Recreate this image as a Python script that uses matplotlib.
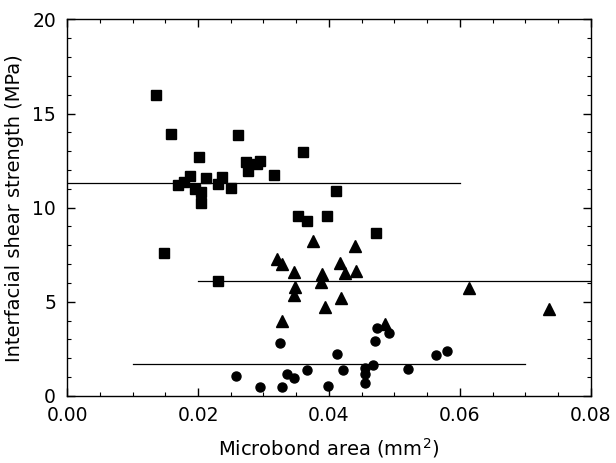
import matplotlib
matplotlib.use("Agg")
import matplotlib.pyplot as plt
from matplotlib.ticker import MultipleLocator

plt.rcParams['font.family'] = ['DejaVu Sans']

# squares (upper group)
sq_x = [0.0135, 0.0159, 0.0148, 0.0169, 0.0179, 0.0187, 0.0195, 0.0201, 0.0205,
        0.0204, 0.0212, 0.0230, 0.0237, 0.0250, 0.0261, 0.0231, 0.0274, 0.0276,
        0.0290, 0.0295, 0.0316, 0.0361, 0.0352, 0.0367, 0.0397, 0.0411, 0.0472]
sq_y = [16.0, 13.9, 7.6, 11.2, 11.35, 11.7, 11.0, 12.7, 10.85,
        10.25, 11.55, 11.25, 11.65, 11.05, 13.85, 6.1, 12.45, 11.95,
        12.3, 12.5, 11.75, 12.95, 9.55, 9.3, 9.55, 10.9, 8.65]

# triangles (middle group)
tri_x = [0.0375, 0.0320, 0.0328, 0.0346, 0.0348, 0.0346, 0.0328, 0.0389, 0.0388,
         0.0394, 0.0417, 0.0424, 0.0440, 0.0441, 0.0418, 0.0485, 0.0614, 0.0736]
tri_y = [8.25, 7.25, 7.0, 6.6, 5.8, 5.35, 4.0, 6.45, 6.05,
         4.7, 7.05, 6.55, 7.95, 6.65, 5.2, 3.8, 5.75, 4.6]

# circles (lower group)
cir_x = [0.0325, 0.0258, 0.0294, 0.0329, 0.0336, 0.0346, 0.0367, 0.0399, 0.0413,
         0.0422, 0.0455, 0.0455, 0.0455, 0.0468, 0.0471, 0.0474, 0.0491, 0.0521,
         0.0563, 0.0581]
cir_y = [2.8, 1.05, 0.45, 0.45, 1.15, 0.95, 1.35, 0.55, 2.25,
         1.4, 0.7, 1.15, 1.5, 1.65, 2.9, 3.6, 3.35, 1.45,
         2.15, 2.4]

# mean lines: (y, x start, x end)
means = [(11.3, 0.0, 0.060), (6.1, 0.020, 0.080), (1.7, 0.010, 0.070)]

fig = plt.figure(figsize=(6.16, 4.63), dpi=100)
ax = fig.add_axes([0.109, 0.145, 0.850, 0.813])

for y, x0, x1 in means:
    ax.plot([x0, x1], [y, y], color='black', lw=0.9)

ax.plot(sq_x, sq_y, 's', color='black', ms=7)
ax.plot(tri_x, tri_y, '^', color='black', ms=8)
ax.plot(cir_x, cir_y, 'o', color='black', ms=6.5)

ax.set_xlim(0, 0.08)
ax.set_ylim(0, 20)
ax.xaxis.set_major_locator(MultipleLocator(0.02))
ax.xaxis.set_minor_locator(MultipleLocator(0.005))
ax.yaxis.set_major_locator(MultipleLocator(5))
ax.yaxis.set_minor_locator(MultipleLocator(1))
ax.xaxis.set_major_formatter(plt.FormatStrFormatter('%.2f'))
ax.tick_params(which='both', direction='in', top=True, right=True, labelsize=13.5)
ax.tick_params(which='major', length=6, width=1)
ax.tick_params(which='minor', length=3, width=0.8)
ax.tick_params(axis='x', which='major', pad=7)
ax.tick_params(axis='y', which='major', pad=8)
for s in ax.spines.values():
    s.set_linewidth(1)

ax.set_xlabel('Microbond area (mm$^2$)', fontsize=14, labelpad=8)
ax.set_ylabel('Interfacial shear strength (MPa)', fontsize=14, labelpad=6)

fig.savefig('out.png', dpi=100)
